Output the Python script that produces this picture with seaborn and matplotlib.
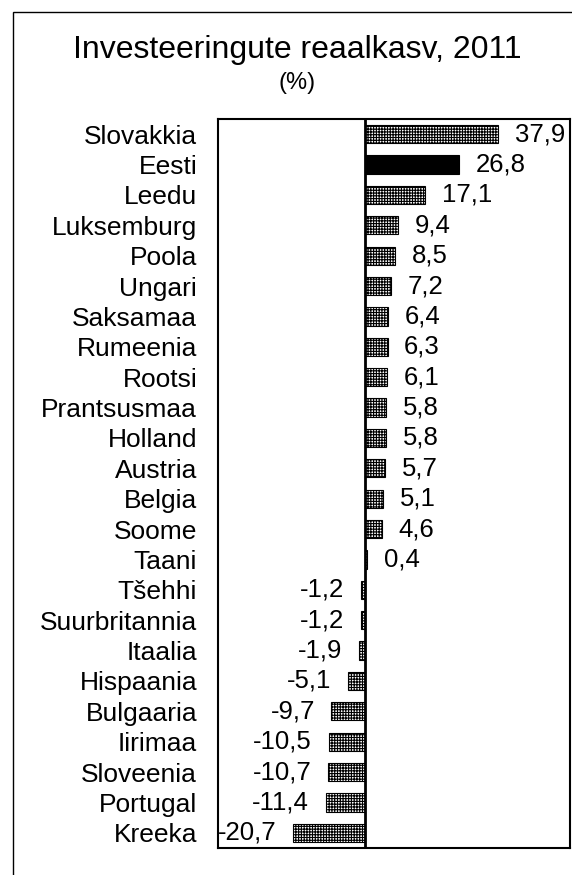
import matplotlib
matplotlib.use("Agg")
import matplotlib.pyplot as plt
import matplotlib.patches as mpatches
import seaborn as sns
import pandas as pd

# Andmed
riigid = ["Slovakkia", "Eesti", "Leedu", "Luksemburg", "Poola", "Ungari", "Saksamaa",
          "Rumeenia", "Rootsi", "Prantsusmaa", "Holland", "Austria", "Belgia", "Soome",
          "Taani", "Tšehhi", "Suurbritannia", "Itaalia", "Hispaania", "Bulgaaria",
          "Iirimaa", "Sloveenia", "Portugal", "Kreeka"]
kasv = [37.9, 26.8, 17.1, 9.4, 8.5, 7.2, 6.4, 6.3, 6.1, 5.8, 5.8, 5.7, 5.1, 4.6,
        0.4, -1.2, -1.2, -1.9, -5.1, -9.7, -10.5, -10.7, -11.4, -20.7]
esile = "Eesti"

df = pd.DataFrame({"riik": riigid, "kasv": kasv})

sns.set_style("white")
plt.rcParams["font.family"] = ["Liberation Sans", "DejaVu Sans"]
plt.rcParams["text.color"] = "black"
plt.rcParams["ytick.color"] = "black"
plt.rcParams["ytick.labelcolor"] = "black"
plt.rcParams["hatch.linewidth"] = 0.8

fig = plt.figure(figsize=(5.72, 8.75), dpi=100)
ax = fig.add_axes([218 / 572, 1 - 848 / 875, (570 - 218) / 572, (848 - 119) / 875])

varvid = {r: ("black" if r == esile else "white") for r in riigid}
sns.barplot(data=df, x="kasv", y="riik", hue="riik", palette=varvid, legend=False,
            orient="h", width=0.6, edgecolor="black", linewidth=0.8, saturation=1, ax=ax)

for p, r in zip(ax.patches, riigid):
    if r != esile:
        p.set_hatch("++++++")

for c in ax.containers:
    silt = [f"{v:.1f}".replace(".", ",") for v in c.datavalues]
    ax.bar_label(c, labels=silt, padding=12, fontsize=18.5, color="black")

ax.axvline(0, color="black", lw=2)
ax.set_xlim(-42.1, 58.4)
ax.set_ylim(len(riigid) - 0.5, -0.5)
ax.set_xticks([])
ax.set_xlabel("")
ax.set_ylabel("")
ax.tick_params(axis="y", length=0, labelsize=19, pad=15, labelcolor="black")
for s in ax.spines.values():
    s.set_visible(True)
    s.set_color("black")
    s.set_linewidth(1.5)

fig.text(0.519, 1 - 58 / 875, "Investeeringute reaalkasv, 2011", ha="center",
         va="baseline", fontsize=23, color="black")
fig.text(0.519, 1 - 83 / 875, "(%)", ha="center", va="center", fontsize=17, color="black")

# Välimine raam
fig.patches.append(mpatches.Rectangle((13 / 572, -0.05), 1.1, 1 - 12 / 875 + 0.05,
                                      transform=fig.transFigure, fill=False,
                                      edgecolor="black", lw=1))

fig.savefig("out.png", dpi=100)
